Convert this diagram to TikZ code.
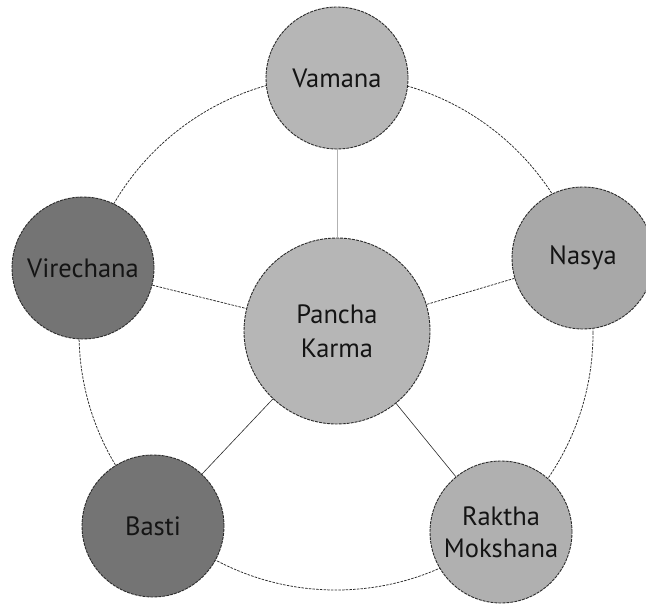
\documentclass[tikz,border=0pt]{standalone}
\usepackage{fontspec}
\setmainfont{PT Sans}
\definecolor{lineC}{HTML}{2A2A2A}
\definecolor{lightF}{HTML}{B6B6B6}
\definecolor{midF}{HTML}{A8A8A8}
\definecolor{rakF}{HTML}{B0B0B0}
\definecolor{darkF}{HTML}{747474}
\definecolor{txtC}{HTML}{141414}
\begin{document}
\begin{tikzpicture}[x=1bp,y=-1bp,
  link/.style={draw=lineC, line width=0.75bp, dash pattern=on 2.5bp off 1.2bp},
  bubble/.style={circle, draw=lineC, line width=0.9bp, dash pattern=on 3bp off 1bp,
     minimum size=142bp, inner sep=0pt, text=txtC, align=center,
     font=\fontsize{26.5bp}{32bp}\selectfont},
  hub/.style={bubble, minimum size=186bp, font=\fontsize{26.5bp}{34bp}\selectfont}]
\useasboundingbox (0,0) rectangle (646,604);
\begin{scope}
\clip (0,0) rectangle (646,604);
\coordinate (ring) at (336,333);
\draw[link] (ring) circle[radius=257bp];
\node[hub, fill=lightF] (pk) at (337,331) {Pancha\\Karma};
\node[bubble, fill=lightF] (vam) at (337,78) {Vamana};
\node[bubble, fill=midF] (nas) at (583,258) {Nasya};
\node[bubble, fill=rakF] (rak) at (501,532) {Raktha\\Mokshana};
\node[bubble, fill=darkF] (bas) at (153,526) {Basti};
\node[bubble, fill=darkF] (vir) at (83,268) {Virechana};
\draw[draw=gray!60, line width=0.9bp] (vam) -- (pk);
\draw[link] (vir) -- (pk);
\draw[link] (nas) -- (pk);
\draw[draw=lineC, line width=0.6bp] (bas) -- (pk);
\draw[draw=lineC, line width=0.6bp] (rak) -- (pk);
\end{scope}
\end{tikzpicture}
\end{document}
